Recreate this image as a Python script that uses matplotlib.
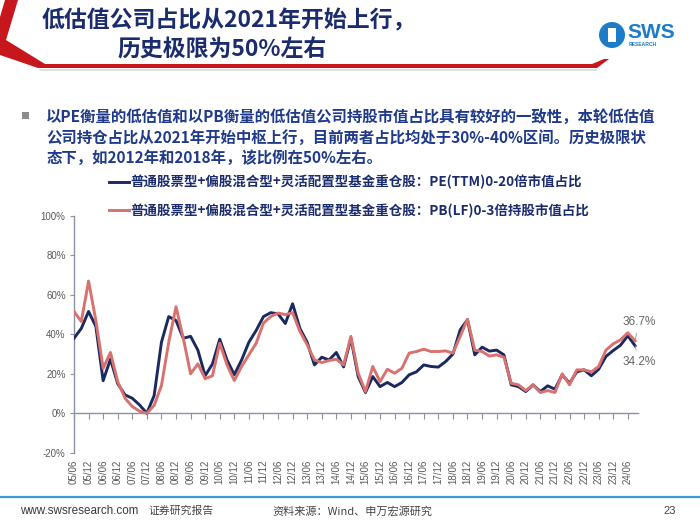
import matplotlib
matplotlib.use("Agg")
import matplotlib.pyplot as plt
import matplotlib.patches as mpatches
from matplotlib.lines import Line2D
import numpy as np

plt.rcParams["font.family"] = ["Noto Sans CJK SC", "DejaVu Sans"]

# quarterly values, 2005Q2 .. 2024Q3 (%)
pe_share = [38, 43, 51.6, 44, 16.5, 27.4, 15, 9.3, 7.6, 4.2, 0, 9, 36, 49, 47, 38, 39, 32, 19,
            25, 37.5, 27, 19.5, 27, 36, 42, 49, 51, 50.4, 45.5, 55.5, 43, 36, 24.5, 28.4, 27, 30.8, 23.5, 38,
            18.6, 10.5, 18.6, 13.5, 15.6, 13.5, 15.6, 19.5, 21, 24.5, 23.7, 23.4, 26.2, 30, 42.3, 47.4, 29.6, 33.5, 31.5,
            32, 29.6, 14.4, 13.5, 11, 14.4, 11, 13.9, 12.2, 19.5, 15.2, 21, 22, 19, 22.3, 28.8, 31.8, 34.5, 39.3, 34.2]
pb_share = [51.6, 46.5, 67, 47, 22.8, 30.8, 16, 7.6, 3.4, 1, 0, 4, 14, 36, 54, 38, 20, 25, 17.5,
            19, 35.5, 24.5, 16.6, 23.7, 29.6, 35.5, 45.7, 49, 50.8, 50, 51, 41.5, 34.7, 27, 25.7, 26.7, 27.4, 24.5, 39,
            20.3, 11, 23.7, 16, 22.3, 20.3, 22.8, 30.5, 31.3, 32.5, 31.3, 31.3, 31.6, 30.5, 39, 47.7, 32, 31.3, 29,
            29.6, 28.4, 15.2, 14.4, 11.5, 14.4, 10.5, 11.5, 10.5, 20, 14.4, 22, 22, 21, 23.7, 32, 35.2, 37.2, 40.8, 36.7]
tick_labels = ["05/06", "05/12", "06/06", "06/12", "07/06", "07/12", "08/06", "08/12", "09/06", "09/12",
               "10/06", "10/12", "11/06", "11/12", "12/06", "12/12", "13/06", "13/12", "14/06", "14/12",
               "15/06", "15/12", "16/06", "16/12", "17/06", "17/12", "18/06", "18/12", "19/06", "19/12",
               "20/06", "20/12", "21/06", "21/12", "22/06", "22/12", "23/06", "23/12", "24/06"]
pe_label = "普通股票型+偏股混合型+灵活配置型基金重仓股：PE(TTM)0-20倍市值占比"
pb_label = "普通股票型+偏股混合型+灵活配置型基金重仓股：PB(LF)0-3倍持股市值占比"

W, H = 700, 525


def fx(x):
    return x / W


def fy(y):
    return 1 - y / H


fig = plt.figure(figsize=(7, 5.25), dpi=100)
fig.patch.set_facecolor("white")

# header decoration
red = "#C8161D"
chevron = [(5, 0), (18, 0), (6, 40), (45, 64), (45, 68), (38, 68), (0, 55), (0, 17)]
fig.patches.append(mpatches.Polygon([(fx(a), fy(b)) for a, b in chevron], closed=True,
                                    transform=fig.transFigure, color=red, lw=0))
bar = [(38, 64), (592, 64), (604, 59), (609, 59), (597, 68), (38, 68)]
fig.patches.append(mpatches.Polygon([(fx(a), fy(b)) for a, b in bar], closed=True,
                                    transform=fig.transFigure, color=red, lw=0))
fig.add_artist(Line2D([fx(40), fx(596)], [fy(70), fy(70)], color="#D9D9D9", lw=1.2))

navy = "#1B2C6E"
fig.text(fx(229), fy(21), "低估值公司占比从2021年开始上行，", fontsize=16.5, color=navy,
         ha="center", va="center", fontweight="bold")
fig.text(fx(222), fy(50), "历史极限为50%左右", fontsize=16.5, color=navy,
         ha="center", va="center", fontweight="bold")

# logo
logo_blue = "#1C7CC7"
fig.patches.append(mpatches.Ellipse((fx(612), fy(35)), 26 / W, 26 / H, transform=fig.transFigure,
                                    color=logo_blue, lw=0))
fig.patches.append(mpatches.Rectangle((fx(608), fy(42)), 8 / W, 14 / H, transform=fig.transFigure,
                                      color="white", lw=0))
fig.text(fx(627), fy(33), "SWS", fontsize=15, color=logo_blue, fontweight="bold",
         family=["Liberation Sans"], ha="left", va="center")
fig.text(fx(629), fy(45), "RESEARCH", fontsize=3.6, color=logo_blue, fontweight="bold",
         family=["Liberation Sans"], ha="left", va="center")

# bullet text
body_blue = "#1F3A8A"
fig.patches.append(mpatches.Rectangle((fx(22), fy(119)), 7 / W, 7 / H, transform=fig.transFigure,
                                      color="#8C8C8C", lw=0))
body = ["以PE衡量的低估值和以PB衡量的低估值公司持股市值占比具有较好的一致性，本轮低估值",
        "公司持仓占比从2021年开始中枢上行，目前两者占比均处于30%-40%区间。历史极限状",
        "态下，如2012年和2018年，该比例在50%左右。"]
for i, line in enumerate(body):
    fig.text(fx(46), fy(117 + 20.5 * i), line, fontsize=11.1, color=body_blue, fontweight="bold",
             ha="left", va="center")

# chart
ax = fig.add_axes([fx(74), fy(452.7), (638 - 74) / W, (452.7 - 216) / H])
q = np.arange(len(pe_share))
l1, = ax.plot(q, pe_share, color="#1A2A5E", lw=2.1, solid_joinstyle="round", zorder=3, label=pe_label)
l2, = ax.plot(q, pb_share, color="#D9716F", lw=2.1, solid_joinstyle="round", zorder=4, label=pb_label)

ax.set_xlim(0, 77.4)
ax.set_ylim(-20, 100)
axis_col = "#8A92A6"
ax.set_yticks(np.arange(-20, 101, 20))
ax.set_yticklabels([f"{v}%" for v in range(-20, 101, 20)])
tick_pos = np.arange(0, 2 * len(tick_labels), 2)
ax.set_xticks(tick_pos)
ax.set_xticklabels(tick_labels, rotation=90)
ax.tick_params(axis="x", length=0, pad=5, labelsize=7, labelcolor="#595959")
ax.tick_params(axis="y", length=3, width=0.8, color=axis_col, pad=3, labelsize=7, labelcolor="#595959")
for lab in ax.get_xticklabels() + ax.get_yticklabels():
    lab.set_family(["Liberation Sans"])
for s in ["top", "right", "bottom"]:
    ax.spines[s].set_visible(False)
ax.spines["left"].set_color(axis_col)
ax.spines["left"].set_linewidth(1)

zero = ax.secondary_xaxis(1 / 6)
zero.set_xticks(tick_pos)
zero.xaxis.set_ticks_position("bottom")
zero.tick_params(axis="x", direction="out", length=4, width=0.8, color=axis_col, labelbottom=False)
zero.spines["bottom"].set_color(axis_col)
zero.spines["bottom"].set_linewidth(1)

ax.annotate(f"{pb_share[-1]}%", xy=(q[-1], pb_share[-1]), xytext=(4, 19), textcoords="offset pixels",
            ha="center", va="center", fontsize=8.5, color="#666666", family=["Liberation Sans"],
            arrowprops=dict(arrowstyle="-", color="#9A9A9A", lw=0.6, shrinkA=2, shrinkB=0))
ax.annotate(f"{pe_share[-1]}%", xy=(q[-1], pe_share[-1]), xytext=(4, -16), textcoords="offset pixels",
            ha="center", va="center", fontsize=8.5, color="#666666", family=["Liberation Sans"],
            arrowprops=dict(arrowstyle="-", color="#9A9A9A", lw=0.6, shrinkA=2, shrinkB=0))

leg = ax.legend(handles=[l1, l2], loc="upper left", bbox_to_anchor=(fx(109), fy(175)),
                bbox_transform=fig.transFigure, frameon=False, fontsize=9.7, handlelength=1.45,
                handletextpad=0.15, labelspacing=1.05, borderpad=0, borderaxespad=0)
for t in leg.get_texts():
    t.set_color(navy)
    t.set_fontweight("bold")

# footer
fig.add_artist(Line2D([0, 1], [fy(497), fy(497)], color="#3C9AD6", lw=1.6))
fig.text(fx(20), fy(511), "www.swsresearch.com", fontsize=8.4, color="#3A3A3A",
         family=["Liberation Sans"], ha="left", va="center")
fig.text(fx(148), fy(511), "证券研究报告", fontsize=7.8, color="#444444", ha="left", va="center")
fig.text(fx(272), fy(511), "资料来源：Wind、申万宏源研究", fontsize=8, color="#444444", ha="left", va="center")
fig.text(fx(670), fy(511), "23", fontsize=8, color="#444444", family=["Liberation Sans"],
         ha="center", va="center")

fig.savefig("out.png", dpi=100, facecolor="white")
